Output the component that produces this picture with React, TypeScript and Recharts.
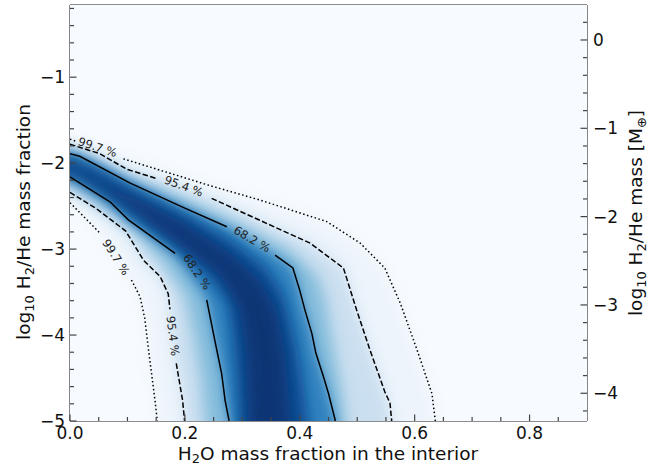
import React from 'react';
import { ScatterChart, Scatter, XAxis, YAxis } from 'recharts';

type P = { x: number; y: number };

// axis ticks
const xTicks = [0, 0.05, 0.1, 0.15, 0.2, 0.25, 0.3, 0.35, 0.4, 0.45, 0.5, 0.55, 0.6, 0.65, 0.7, 0.75, 0.8, 0.85];
const leftTicks = [-5, -4.8, -4.6, -4.4, -4.2, -4, -3.8, -3.6, -3.4, -3.2, -3, -2.8, -2.6, -2.4, -2.2, -2, -1.8, -1.6, -1.4, -1.2, -1, -0.8, -0.6, -0.4, -0.2];
const rightTicks = [-4.2, -4, -3.8, -3.6, -3.4, -3.2, -3, -2.8, -2.6, -2.4, -2.2, -2, -1.8, -1.6, -1.4, -1.2, -1, -0.8, -0.6, -0.4, -0.2, 0, 0.2];

const xDomain = [0, 0.9];
const leftDomain = [-5, -0.16];
const rightDomain = [-4.314, 0.396];

// plot background (lowest Blues level)
const background: P[] = [
  { x: 0, y: -5 }, { x: 0.9, y: -5 }, { x: 0.9, y: -0.16 }, { x: 0, y: -0.16 },
];

// density levels, outer to inner
const region997: P[] = [
  { x: -0.04, y: -1.7 }, { x: 0, y: -1.72 }, { x: 0.097, y: -1.94 }, { x: 0.243, y: -2.26 },
  { x: 0.331, y: -2.43 }, { x: 0.389, y: -2.555 }, { x: 0.447, y: -2.68 }, { x: 0.505, y: -2.93 },
  { x: 0.548, y: -3.22 }, { x: 0.575, y: -3.63 }, { x: 0.604, y: -4.17 }, { x: 0.63, y: -4.68 },
  { x: 0.636, y: -5 }, { x: 0.64, y: -5.3 }, { x: 0.15, y: -5.3 }, { x: 0.152, y: -5 },
  { x: 0.148, y: -4.76 }, { x: 0.137, y: -4.19 }, { x: 0.13, y: -3.8 }, { x: 0.122, y: -3.555 },
  { x: 0.107, y: -3.36 }, { x: 0.08, y: -3.09 }, { x: 0.053, y: -2.82 }, { x: 0, y: -2.46 }, { x: -0.04, y: -2.44 },
];
const region954: P[] = [
  { x: -0.04, y: -1.76 }, { x: 0, y: -1.78 }, { x: 0.052, y: -1.89 }, { x: 0.0986, y: -2.07 },
  { x: 0.151, y: -2.18 }, { x: 0.2466, y: -2.41 }, { x: 0.342, y: -2.7 }, { x: 0.418, y: -2.93 },
  { x: 0.476, y: -3.22 }, { x: 0.499, y: -3.71 }, { x: 0.522, y: -4.17 }, { x: 0.548, y: -4.66 },
  { x: 0.56, y: -5 }, { x: 0.565, y: -5.3 }, { x: 0.2, y: -5.3 }, { x: 0.1995, y: -5 },
  { x: 0.196, y: -4.76 }, { x: 0.185, y: -4.33 }, { x: 0.178, y: -4.0 }, { x: 0.174, y: -3.7 },
  { x: 0.171, y: -3.52 }, { x: 0.157, y: -3.32 }, { x: 0.128, y: -3.13 }, { x: 0.097, y: -2.79 },
  { x: 0.046, y: -2.53 }, { x: 0, y: -2.34 }, { x: -0.04, y: -2.32 },
];
const regionMid: P[] = [
  { x: -0.04, y: -1.82 }, { x: 0, y: -1.84 }, { x: 0.1, y: -2.15 }, { x: 0.2, y: -2.42 },
  { x: 0.3, y: -2.72 }, { x: 0.38, y: -3.0 }, { x: 0.43, y: -3.3 }, { x: 0.445, y: -3.6 },
  { x: 0.458, y: -4.1 }, { x: 0.472, y: -4.6 }, { x: 0.48, y: -5 }, { x: 0.485, y: -5.3 },
  { x: 0.235, y: -5.3 }, { x: 0.235, y: -5 }, { x: 0.228, y: -4.5 }, { x: 0.215, y: -4.0 },
  { x: 0.2, y: -3.55 }, { x: 0.16, y: -3.15 }, { x: 0.12, y: -2.85 }, { x: 0.07, y: -2.58 },
  { x: 0, y: -2.26 }, { x: -0.04, y: -2.24 },
];
const region682: P[] = [
  { x: -0.04, y: -1.87 }, { x: 0, y: -1.89 }, { x: 0.017, y: -1.92 }, { x: 0.104, y: -2.23 },
  { x: 0.197, y: -2.515 }, { x: 0.273, y: -2.74 }, { x: 0.315, y: -2.9 }, { x: 0.357, y: -3.07 },
  { x: 0.388, y: -3.22 }, { x: 0.4, y: -3.48 }, { x: 0.409, y: -3.71 }, { x: 0.421, y: -3.98 },
  { x: 0.428, y: -4.21 }, { x: 0.441, y: -4.48 }, { x: 0.45, y: -4.68 }, { x: 0.462, y: -5 },
  { x: 0.465, y: -5.3 }, { x: 0.28, y: -5.3 }, { x: 0.277, y: -5 }, { x: 0.27, y: -4.76 },
  { x: 0.264, y: -4.45 }, { x: 0.252, y: -4.06 }, { x: 0.238, y: -3.59 }, { x: 0.21, y: -3.32 },
  { x: 0.183, y: -3.05 }, { x: 0.1016, y: -2.66 }, { x: 0.0696, y: -2.45 }, { x: 0, y: -2.16 },
  { x: -0.04, y: -2.14 },
];
const regionCore: P[] = [
  { x: -0.04, y: -1.94 }, { x: 0, y: -1.95 }, { x: 0.05, y: -2.08 }, { x: 0.1, y: -2.28 },
  { x: 0.2, y: -2.6 }, { x: 0.28, y: -2.9 }, { x: 0.34, y: -3.2 }, { x: 0.37, y: -3.5 },
  { x: 0.39, y: -4.0 }, { x: 0.405, y: -4.5 }, { x: 0.415, y: -5 }, { x: 0.418, y: -5.3 },
  { x: 0.292, y: -5.3 }, { x: 0.295, y: -5 }, { x: 0.29, y: -4.5 }, { x: 0.283, y: -4.0 },
  { x: 0.275, y: -3.6 }, { x: 0.24, y: -3.3 }, { x: 0.18, y: -2.95 }, { x: 0.1, y: -2.56 },
  { x: 0.05, y: -2.3 }, { x: 0, y: -2.12 }, { x: -0.04, y: -2.11 },
];
const regionInner: P[] = [
  { x: -0.04, y: -1.99 }, { x: 0, y: -2.0 }, { x: 0.1, y: -2.35 }, { x: 0.2, y: -2.7 },
  { x: 0.28, y: -3.05 }, { x: 0.33, y: -3.35 }, { x: 0.36, y: -3.7 }, { x: 0.375, y: -4.2 },
  { x: 0.385, y: -5 }, { x: 0.387, y: -5.3 }, { x: 0.31, y: -5.3 }, { x: 0.31, y: -5 },
  { x: 0.305, y: -4.2 }, { x: 0.295, y: -3.7 }, { x: 0.26, y: -3.3 }, { x: 0.19, y: -2.95 },
  { x: 0.1, y: -2.5 }, { x: 0, y: -2.08 }, { x: -0.04, y: -2.07 },
];

// contour lines, split where the inline labels sit
const c682: P[][] = [
  [{ x: 0, y: -1.89 }, { x: 0.017, y: -1.92 }, { x: 0.104, y: -2.23 }, { x: 0.197, y: -2.515 }, { x: 0.273, y: -2.74 }],
  [{ x: 0.357, y: -3.07 }, { x: 0.388, y: -3.22 }, { x: 0.4, y: -3.48 }, { x: 0.409, y: -3.71 }, { x: 0.421, y: -3.98 },
   { x: 0.428, y: -4.21 }, { x: 0.441, y: -4.48 }, { x: 0.45, y: -4.68 }, { x: 0.462, y: -5 }],
  [{ x: 0, y: -2.16 }, { x: 0.0696, y: -2.45 }, { x: 0.1016, y: -2.66 }, { x: 0.183, y: -3.05 }],
  [{ x: 0.238, y: -3.59 }, { x: 0.252, y: -4.06 }, { x: 0.264, y: -4.45 }, { x: 0.27, y: -4.76 }, { x: 0.277, y: -5 }],
];
const c954: P[][] = [
  [{ x: 0, y: -1.78 }, { x: 0.052, y: -1.89 }, { x: 0.0986, y: -2.07 }, { x: 0.151, y: -2.18 }],
  [{ x: 0.2466, y: -2.41 }, { x: 0.342, y: -2.7 }, { x: 0.418, y: -2.93 }, { x: 0.476, y: -3.22 }, { x: 0.499, y: -3.71 },
   { x: 0.522, y: -4.17 }, { x: 0.548, y: -4.66 }, { x: 0.557, y: -4.79 }, { x: 0.56, y: -5 }],
  [{ x: 0, y: -2.34 }, { x: 0.046, y: -2.53 }, { x: 0.097, y: -2.79 }, { x: 0.128, y: -3.13 }, { x: 0.157, y: -3.32 },
   { x: 0.171, y: -3.52 }, { x: 0.174, y: -3.7 }],
  [{ x: 0.185, y: -4.33 }, { x: 0.196, y: -4.76 }, { x: 0.1995, y: -5 }],
];
const c997: P[][] = [
  [{ x: 0, y: -1.72 }, { x: 0.012, y: -1.75 }],
  [{ x: 0.093, y: -1.95 }, { x: 0.243, y: -2.26 }, { x: 0.331, y: -2.43 }, { x: 0.389, y: -2.555 }, { x: 0.447, y: -2.68 },
   { x: 0.505, y: -2.93 }, { x: 0.548, y: -3.22 }, { x: 0.575, y: -3.63 }, { x: 0.604, y: -4.17 }, { x: 0.63, y: -4.68 }, { x: 0.636, y: -5 }],
  [{ x: 0, y: -2.46 }, { x: 0.053, y: -2.82 }],
  [{ x: 0.107, y: -3.36 }, { x: 0.122, y: -3.555 }, { x: 0.13, y: -3.8 }, { x: 0.137, y: -4.19 }, { x: 0.148, y: -4.76 }, { x: 0.152, y: -5 }],
];

const contourLabels = [
  { x: 0.048, y: -1.814, text: '99.7 %' },
  { x: 0.198, y: -2.267, text: '95.4 %' },
  { x: 0.317, y: -2.884, text: '68.2 %' },
  { x: 0.221, y: -3.267, text: '68.2 %' },
  { x: 0.08, y: -3.093, text: '99.7 %' },
  { x: 0.179, y: -4.01, text: '95.4 %' },
];
const labelAngles = [18, 20, 30, 56, 57, 83];

const FONT = 'DejaVu Sans, sans-serif';
const SPINE = '#666';
const TICK = '#444';

const fmt = (v: number, digits = 0) => {
  const s = Math.abs(v).toFixed(digits);
  return v < -1e-9 ? '\u2212' + s : s;
};
const isMajor = (v: number, step: number) => Math.abs(v / step - Math.round(v / step)) < 1e-6;

const toPath = (pts: { x: number; y: number }[], close: boolean) =>
  pts.map((p, i) => `${i ? 'L' : 'M'}${p.x},${p.y}`).join('') + (close ? 'Z' : '');

const softFill = (fill: string, filter: string) => (props: any) => (
  <path d={toPath(props.points, true)} fill={fill} stroke="none" filter={filter ? `url(#${filter})` : undefined} />
);
const contourStroke = (dash: string) => (props: any) => (
  <path d={toPath(props.points, false)} fill="none" stroke="#000" strokeWidth={1.5} strokeDasharray={dash} />
);
const noDot = () => <g />;

const BottomTick = (props: any) => {
  const { x, y, payload } = props;
  const major = isMajor(payload.value, 0.2);
  return (
    <g>
      <line x1={x} y1={y} x2={x} y2={y - (major ? 6.5 : 4)} stroke={TICK} strokeWidth={1.2} />
      {major && (
        <text x={x} y={y + 18} textAnchor="middle" fontSize={17} fontFamily={FONT} fill="#111">
          {fmt(payload.value, 1)}
        </text>
      )}
    </g>
  );
};
const TopTick = (props: any) => {
  const { x, y, payload } = props;
  const major = isMajor(payload.value, 0.2);
  return <line x1={x} y1={y} x2={x} y2={y + (major ? 6.5 : 4)} stroke={TICK} strokeWidth={1.2} />;
};
const LeftTick = (props: any) => {
  const { x, y, payload } = props;
  const major = isMajor(payload.value, 1);
  return (
    <g>
      <line x1={x} y1={y} x2={x + (major ? 6.5 : 4)} y2={y} stroke={TICK} strokeWidth={1.2} />
      {major && (
        <text x={x - 5} y={y + 6} textAnchor="end" fontSize={17} fontFamily={FONT} fill="#111">
          {fmt(payload.value)}
        </text>
      )}
    </g>
  );
};
const RightTick = (props: any) => {
  const { x, y, payload } = props;
  const major = isMajor(payload.value, 1);
  return (
    <g>
      <line x1={x} y1={y} x2={x - (major ? 6.5 : 4)} y2={y} stroke={TICK} strokeWidth={1.2} />
      {major && (
        <text x={x + 6} y={y + 6} textAnchor="start" fontSize={17} fontFamily={FONT} fill="#111">
          {fmt(payload.value)}
        </text>
      )}
    </g>
  );
};

const ContourLabel = (props: any) => {
  const { cx, cy, payload } = props;
  return (
    <text
      x={cx}
      y={cy}
      transform={`rotate(${payload.rot} ${cx} ${cy})`}
      textAnchor="middle"
      dominantBaseline="central"
      fontSize={11.5}
      fontFamily={FONT}
      fill="#222"
    >
      {payload.text}
    </text>
  );
};

const layers = [
  { data: background, fill: '#f7fbff', filter: '' },
  { data: region997, fill: '#edf4fb', filter: 'blur8' },
  { data: region954, fill: '#cadff0', filter: 'blur7' },
  { data: regionMid, fill: '#86bddc', filter: 'blur7' },
  { data: region682, fill: '#3383c0', filter: 'blur6' },
  { data: regionCore, fill: '#0d4f97', filter: 'blur7' },
  { data: regionInner, fill: '#083674', filter: 'blur8' },
];

const App: React.FC = () => {
  const labelData = contourLabels.map((l, i) => ({ ...l, rot: labelAngles[i] }));
  return (
    <div style={{ position: 'absolute', left: 0, top: 0 }}>
      <ScatterChart width={657} height={466} margin={{ top: 0, right: 0, bottom: 0, left: 0 }}>
        <defs>
          {[5, 6, 7, 8].map((s) => (
            <filter key={s} id={`blur${s}`} x="-30%" y="-30%" width="160%" height="160%">
              <feGaussianBlur stdDeviation={s} />
            </filter>
          ))}
        </defs>
        <XAxis
          xAxisId="b"
          dataKey="x"
          type="number"
          domain={xDomain}
          allowDataOverflow
          ticks={xTicks}
          interval={0}
          height={45}
          tickSize={0}
          tickMargin={0}
          tickLine={false}
          tick={<BottomTick />}
          axisLine={{ stroke: SPINE, strokeWidth: 1.6 }}
        />
        <XAxis
          xAxisId="t"
          orientation="top"
          type="number"
          domain={xDomain}
          allowDataOverflow
          ticks={xTicks}
          interval={0}
          height={5}
          tickSize={0}
          tickMargin={0}
          tickLine={false}
          tick={<TopTick />}
          axisLine={{ stroke: SPINE, strokeWidth: 1.6 }}
        />
        <YAxis
          yAxisId="l"
          dataKey="y"
          type="number"
          domain={leftDomain}
          allowDataOverflow
          ticks={leftTicks}
          interval={0}
          width={70}
          tickSize={0}
          tickMargin={0}
          tickLine={false}
          tick={<LeftTick />}
          axisLine={{ stroke: SPINE, strokeWidth: 1.6 }}
        />
        <YAxis
          yAxisId="r"
          orientation="right"
          type="number"
          domain={rightDomain}
          allowDataOverflow
          ticks={rightTicks}
          interval={0}
          width={70}
          tickSize={0}
          tickMargin={0}
          tickLine={false}
          tick={<RightTick />}
          axisLine={{ stroke: SPINE, strokeWidth: 1.6 }}
        />

        {layers.map((l, i) => (
          <Scatter
            key={`layer-${i}`}
            xAxisId="b"
            yAxisId="l"
            data={l.data}
            line={softFill(l.fill, l.filter)}
            shape={noDot}
            isAnimationActive={false}
          />
        ))}
        {c997.map((seg, i) => (
          <Scatter key={`c997-${i}`} xAxisId="b" yAxisId="l" data={seg} line={contourStroke('1.5 2.5')} shape={noDot} isAnimationActive={false} />
        ))}
        {c954.map((seg, i) => (
          <Scatter key={`c954-${i}`} xAxisId="b" yAxisId="l" data={seg} line={contourStroke('5.5 2.4')} shape={noDot} isAnimationActive={false} />
        ))}
        {c682.map((seg, i) => (
          <Scatter key={`c682-${i}`} xAxisId="b" yAxisId="l" data={seg} line={contourStroke('')} shape={noDot} isAnimationActive={false} />
        ))}
        <Scatter xAxisId="b" yAxisId="l" data={labelData} shape={<ContourLabel />} isAnimationActive={false} />

        <text x={328} y={460} textAnchor="middle" fontSize={18.5} fontFamily={FONT} fill="#111">
          H<tspan dy={3} fontSize={13}>2</tspan>
          <tspan dy={-3}>O mass fraction in the interior</tspan>
        </text>
        <text x={30} y={222} transform="rotate(-90 30 222)" textAnchor="middle" fontSize={18.5} fontFamily={FONT} fill="#111">
          log<tspan dy={4} fontSize={13}>10</tspan>
          <tspan dy={-4}> H</tspan>
          <tspan dy={4} fontSize={13}>2</tspan>
          <tspan dy={-4}>/He mass fraction</tspan>
        </text>
        <text x={642} y={213} transform="rotate(-90 642 213)" textAnchor="middle" fontSize={18.5} fontFamily={FONT} fill="#111">
          log<tspan dy={4} fontSize={13}>10</tspan>
          <tspan dy={-4}> H</tspan>
          <tspan dy={4} fontSize={13}>2</tspan>
          <tspan dy={-4}>/He mass [M</tspan>
          <tspan dy={4} fontSize={13}>{'\u2295'}</tspan>
          <tspan dy={-4}>]</tspan>
        </text>
      </ScatterChart>
    </div>
  );
};

export default App;
